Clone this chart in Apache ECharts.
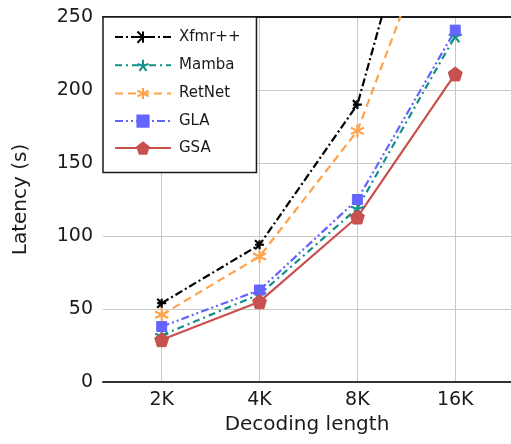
<!DOCTYPE html>
<html>
<head>
<meta charset="utf-8">
<script src="https://cdn.jsdelivr.net/npm/echarts@6/dist/echarts.min.js"></script>
<style>
  html, body { margin: 0; padding: 0; background: #fff; }
  #chart { width: 511px; height: 444px; }
</style>
</head>
<body>
<div id="chart"></div>
<script>
// decoding lengths and latency (s) per model
const categories = ['2K', '4K', '8K', '16K']
const xfmr = [54, 94, 190, 431]
const mamba = [32, 60, 119, 237]
const retnet = [46, 86, 172, 350]
const gla = [38, 63, 125, 241]
const gsa = [29, 55, 113, 211]
const yTicks = [0, 50, 100, 150, 200, 250]

const font = 'DejaVu Sans'
const pts = arr => arr.map((v, i) => [i, v])

const markTri = 'path://M-1 -1L0 0L-1 1M0 -1L0 1M-1 0L1 0'
const markStar = 'path://M0 0L0 -1M0 0L0.951 -0.309M0 0L0.588 0.809M0 0L-0.588 0.809M0 0L-0.951 -0.309'
const markAst = 'path://M0 -1L0 1M-0.866 -0.5L0.866 0.5M-0.866 0.5L0.866 -0.5'

function mkSeries(name, data, color, dash, symbol, size, filled) {
  return {
    name: name,
    type: 'line',
    data: pts(data),
    symbol: symbol,
    symbolSize: size,
    showAllSymbol: true,
    lineStyle: { color: color, width: 2.2, type: dash },
    itemStyle: filled
      ? { color: color, borderColor: color, borderWidth: 1 }
      : { color: 'none', borderColor: color, borderWidth: 2.2 },
    emphasis: { disabled: true },
    z: 3
  }
}

const chart = echarts.init(document.getElementById('chart'))
const option = {
  animation: false,
  textStyle: { fontFamily: font },
  grid: { left: 103, right: 0, top: 17, bottom: 62 },
  legend: {
    orient: 'vertical',
    left: 103,
    top: 17,
    padding: [12, 16, 17, 11],
    itemWidth: 56,
    itemHeight: 14,
    itemGap: 12,
    backgroundColor: '#fff',
    borderColor: '#1a1a1a',
    borderWidth: 1.5,
    borderRadius: 0,
    textStyle: { fontFamily: font, fontSize: 15, color: '#1a1a1a', padding: [0, 0, 0, 3] },
    data: ['Xfmr++', 'Mamba', 'RetNet', 'GLA', 'GSA']
  },
  xAxis: [
    {
      type: 'value',
      min: -0.6,
      max: 3.57,
      name: 'Decoding length',
      nameLocation: 'middle',
      nameGap: 33,
      nameTextStyle: { fontFamily: font, fontSize: 20, color: '#1a1a1a' },
      axisLine: { show: true, lineStyle: { color: '#333', width: 2 } },
      axisTick: { show: false, customValues: [0, 1, 2, 3] },
      axisLabel: {
        customValues: [0, 1, 2, 3],
        formatter: v => categories[v],
        fontFamily: font,
        fontSize: 19,
        color: '#1a1a1a',
        margin: 9
      },
      splitLine: { show: true, lineStyle: { color: '#c8c8c8', width: 1 } }
    },
    {
      type: 'value',
      position: 'top',
      min: -0.6,
      max: 3.57,
      axisLine: { show: true, onZero: false, lineStyle: { color: '#1a1a1a', width: 2 } },
      axisTick: { show: false },
      axisLabel: { show: false },
      splitLine: { show: false }
    }
  ],
  yAxis: {
    type: 'value',
    min: yTicks[0],
    max: yTicks[yTicks.length - 1],
    interval: 50,
    name: 'Latency (s)',
    nameLocation: 'middle',
    nameGap: 72,
    nameTextStyle: { fontFamily: font, fontSize: 20, color: '#1a1a1a' },
    axisLine: { show: false },
    axisTick: { show: false },
    axisLabel: { fontFamily: font, fontSize: 19, color: '#1a1a1a', margin: 10 },
    splitLine: { show: true, lineStyle: { color: '#c8c8c8', width: 1 } }
  },
  series: [
    mkSeries('Xfmr++', xfmr, '#000000', [8, 3, 2, 3], markTri, 9, false),
    mkSeries('Mamba', mamba, '#10908a', [7, 4, 2, 4], markStar, 13, false),
    mkSeries('RetNet', retnet, '#ffa24a', [8, 5], markAst, 13, false),
    mkSeries('GLA', gla, '#6464ff', [8, 3, 2, 3, 2, 3], 'rect', 10, true),
    mkSeries('GSA', gsa, '#c8504e', 'solid', 'path://M0 -1L0.951 -0.309L0.588 0.809L-0.588 0.809L-0.951 -0.309Z', 14, true)
  ]
}
chart.setOption(option)
</script>
</body>
</html>
